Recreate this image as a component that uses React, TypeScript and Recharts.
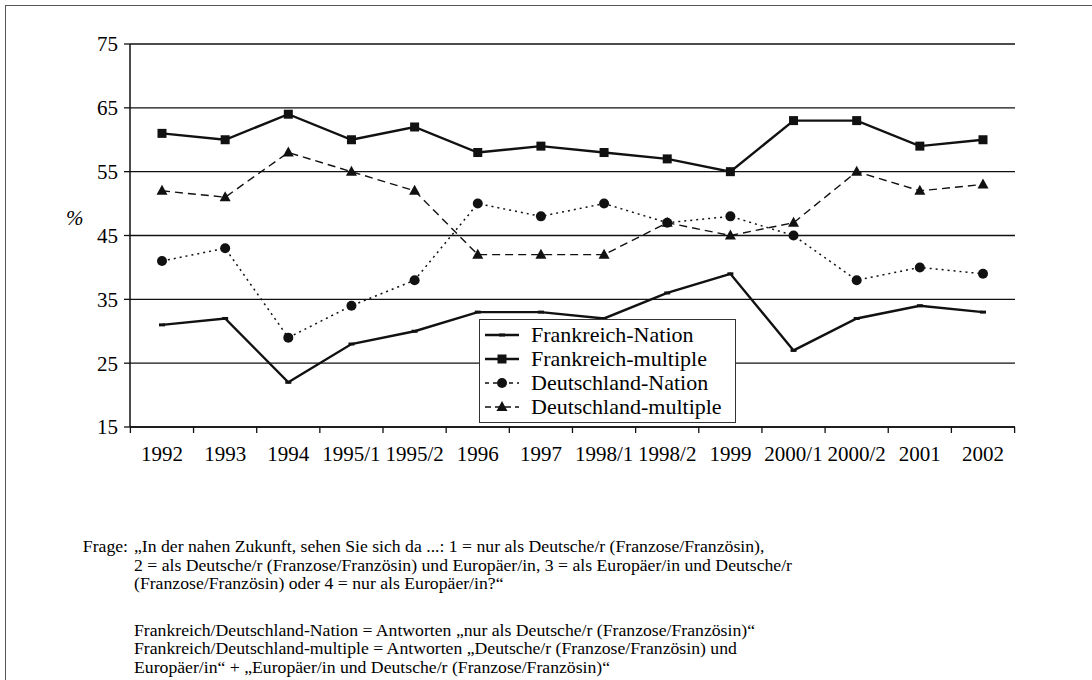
import React from 'react';
import { LineChart, Line, XAxis, YAxis, CartesianGrid, Legend } from 'recharts';

const waves = ['1992', '1993', '1994', '1995/1', '1995/2', '1996', '1997', '1998/1', '1998/2', '1999', '2000/1', '2000/2', '2001', '2002'];
const frNation = [31, 32, 22, 28, 30, 33, 33, 32, 36, 39, 27, 32, 34, 33];
const frMultiple = [61, 60, 64, 60, 62, 58, 59, 58, 57, 55, 63, 63, 59, 60];
const deNation = [41, 43, 29, 34, 38, 50, 48, 50, 47, 48, 45, 38, 40, 39];
const deMultiple = [52, 51, 58, 55, 52, 42, 42, 42, 47, 45, 47, 55, 52, 53];
const yTicks = [15, 25, 35, 45, 55, 65, 75];

const data = waves.map((wave, i) => ({
  wave,
  frNation: frNation[i],
  frMultiple: frMultiple[i],
  deNation: deNation[i],
  deMultiple: deMultiple[i],
}));

const FONT = '"Liberation Serif", Tinos, "Times New Roman", Times, "DejaVu Serif", serif';
const INK = '#111';
const LABEL_GAP = 19;

// marker shapes
const Marker = ({ kind, cx, cy }: { kind: string; cx: number; cy: number }) => {
  if (cx == null || cy == null) return null;
  if (kind === 'dash') return <rect x={cx - 3} y={cy - 1.5} width={6} height={3} fill={INK} />;
  if (kind === 'square') return <rect x={cx - 4.5} y={cy - 4.5} width={9} height={9} fill={INK} />;
  if (kind === 'circle') return <circle cx={cx} cy={cy} r={5} fill={INK} />;
  return <polygon points={`${cx},${cy - 6} ${cx + 5.5},${cy + 4} ${cx - 5.5},${cy + 4}`} fill={INK} />;
};

const series = [
  { key: 'frNation', name: 'Frankreich-Nation', dash: undefined, width: 2.4, marker: 'dash' },
  { key: 'frMultiple', name: 'Frankreich-multiple', dash: undefined, width: 2.4, marker: 'square' },
  { key: 'deNation', name: 'Deutschland-Nation', dash: '2 4', width: 1.5, marker: 'circle' },
  { key: 'deMultiple', name: 'Deutschland-multiple', dash: '8 5', width: 1.4, marker: 'triangle' },
];

// category label centred in its band, with tick marks on the band edges
const WaveTick = (props: any) => {
  const { x, y, payload, index, width, visibleTicksCount } = props;
  const half = width && visibleTicksCount ? width / visibleTicksCount / 2 : 31.6;
  const axisY = y - LABEL_GAP;
  return (
    <g>
      <line x1={x - half} y1={axisY} x2={x - half} y2={axisY + 6} stroke={INK} strokeWidth={1.3} />
      {index === visibleTicksCount - 1 && <line x1={x + half} y1={axisY} x2={x + half} y2={axisY + 6} stroke={INK} strokeWidth={1.3} />}
      <text x={x} y={y} dy="0.71em" textAnchor="middle" fontFamily={FONT} fontSize={21} fill="#000">{payload.value}</text>
    </g>
  );
};

const LegendBox = () => (
  <div style={{ background: '#fff', border: '1.5px solid #333', padding: '3px 4px', boxSizing: 'border-box', height: '100%' }}>
    {series.map((s) => (
      <div key={s.key} style={{ display: 'flex', alignItems: 'center', height: 24, fontFamily: FONT, fontSize: 22, color: '#000' }}>
        <svg width={36} height={14} style={{ marginRight: 11 }}>
          <line x1={1} y1={7} x2={35} y2={7} stroke={INK} strokeWidth={s.width} strokeDasharray={s.dash ? (s.dash === '2 4' ? '4 4' : '6 4') : undefined} />
          <Marker kind={s.marker} cx={18} cy={7} />
        </svg>
        <span>{s.name}</span>
      </div>
    ))}
  </div>
);

const PercentLabel = ({ viewBox }: any) => (
  <text x={viewBox.x + 66} y={viewBox.y + 181} fontFamily={FONT} fontSize={21} fontStyle="italic" fill="#000">%</text>
);

const noteStyle: React.CSSProperties = { fontFamily: FONT, fontSize: 17.7, lineHeight: '18.5px', color: '#000', whiteSpace: 'nowrap' };

export default function App() {
  return (
    <div style={{ position: 'absolute', left: 0, top: 0, width: 1092, height: 680, background: '#fff', overflow: 'hidden', fontFamily: FONT }}>
      <div style={{ position: 'absolute', left: 5, top: 5, width: 1200, height: 800, borderLeft: '1.5px solid #555', borderTop: '1.5px solid #555' }} />
      <div style={{ position: 'absolute', left: 0, top: 0 }}>
        <LineChart width={1092} height={470} data={data} margin={{ top: 44, right: 77, bottom: 0, left: 0 }}>
          <CartesianGrid vertical={false} stroke={INK} strokeWidth={1.3} />
          <XAxis dataKey="wave" tickLine={false} tickSize={0} tickMargin={LABEL_GAP} axisLine={{ stroke: INK, strokeWidth: 1.5 }} height={43} interval={0}
            padding={{ left: 32, right: 32 }} tick={<WaveTick />} />
          <YAxis domain={[15, 75]} ticks={yTicks} width={130} tickSize={6} tickMargin={6} interval={0}
            tickLine={{ stroke: INK, strokeWidth: 1.3 }} axisLine={{ stroke: INK, strokeWidth: 1.5 }}
            tick={{ fontFamily: FONT, fontSize: 21, fill: '#000' }} label={<PercentLabel />} />
          <YAxis yAxisId="right" orientation="right" domain={[15, 75]} allowDataOverflow width={0} tick={false} tickLine={false} axisLine={{ stroke: '#444', strokeWidth: 2 }} />
          {series.map((s) => (
            <Line key={s.key} dataKey={s.key} name={s.name} stroke={INK} strokeWidth={s.width} strokeDasharray={s.dash}
              isAnimationActive={false} dot={(p: any) => <Marker key={p.index} kind={s.marker} cx={p.cx} cy={p.cy} />} activeDot={false} />
          ))}
          <Legend layout="vertical" align="center" verticalAlign="middle" content={() => <LegendBox />}
            wrapperStyle={{ left: 479, top: 319, width: 257, height: 104 }} />
        </LineChart>
      </div>
      <div style={{ position: 'absolute', left: 40, width: 88, textAlign: 'right', top: 537, ...noteStyle }}>Frage:</div>
      <div style={{ position: 'absolute', left: 134, top: 537, ...noteStyle }}>
        <div>„In der nahen Zukunft, sehen Sie sich da ...: 1 = nur als Deutsche/r (Franzose/Französin),</div>
        <div>2 = als Deutsche/r (Franzose/Französin) und Europäer/in, 3 = als Europäer/in und Deutsche/r</div>
        <div>(Franzose/Französin) oder 4 = nur als Europäer/in?“</div>
        <div style={{ height: 28 }} />
        <div>Frankreich/Deutschland-Nation = Antworten „nur als Deutsche/r (Franzose/Französin)“</div>
        <div>Frankreich/Deutschland-multiple = Antworten „Deutsche/r (Franzose/Französin) und</div>
        <div>Europäer/in“ + „Europäer/in und Deutsche/r (Franzose/Französin)“</div>
      </div>
    </div>
  );
}
